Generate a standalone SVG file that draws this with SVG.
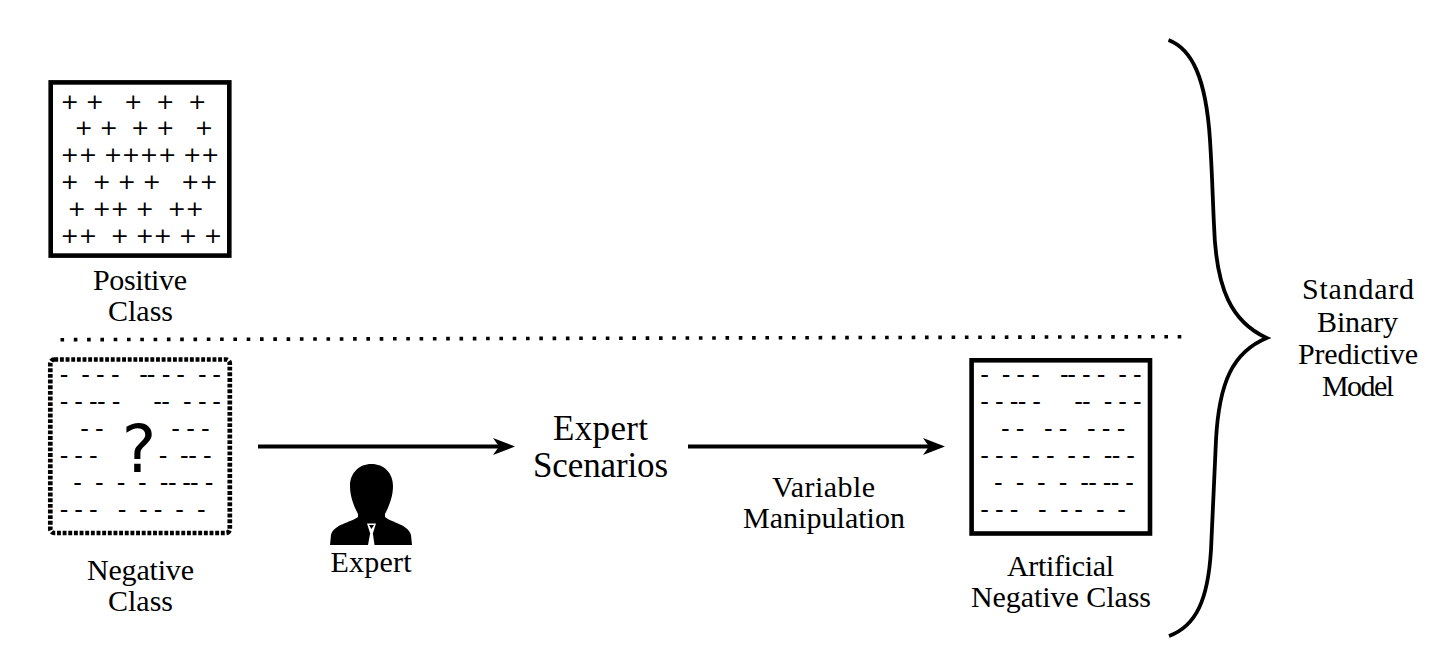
<svg xmlns="http://www.w3.org/2000/svg" width="1448" height="670" viewBox="0 0 1448 670">
<style>
text{fill:#000}
.l{font-family:"Liberation Serif","DejaVu Serif",serif;font-size:30px;text-anchor:middle}
.b{font-size:35px}
.p{font-family:"DejaVu Sans",sans-serif;font-size:22px;text-anchor:middle}
.m{font-family:"DejaVu Sans",sans-serif;font-size:24px;text-anchor:middle}
.box{fill:none;stroke:#000;stroke-width:4.6px}
.c{fill:none;stroke:#000;stroke-width:3.8px}
</style>
<defs>
<marker id="ah" markerUnits="userSpaceOnUse" markerWidth="24" markerHeight="20" refX="12" refY="9" orient="auto">
<path d="M0 0.5 L22 9 L0 17.5 L6 9 Z" fill="#000"/>
</marker>
</defs>
<rect width="1448" height="670" fill="#fff"/>
<g id="connectors">
<line class="c" x1="258" y1="446.5" x2="505" y2="446.5" marker-end="url(#ah)"/>
<line class="c" x1="688" y1="446.5" x2="935" y2="446.5" marker-end="url(#ah)"/>
<line x1="60.5" y1="339.7" x2="1184" y2="336.7" stroke="#000" stroke-width="3.6" stroke-dasharray="3.6 9.7"/>
<path d="M1168.5 40 C1192 49 1206 78 1210 140 C1212.5 180 1212.5 195 1214 225 C1216 290 1232 322 1266.7 338 C1233 352 1219 382 1216 440 C1214 480 1213 510 1211 550 C1208 600 1196 626 1169 636" fill="none" stroke="#000" stroke-width="3.8"/>
</g>
<g id="positive-class">
<rect class="box" x="50.7" y="82.4" width="178.6" height="173.2"/>
<text class="p" y="108.6" x="69.7 94.7 133.3 165.3 197.3">+++++</text>
<text class="p" y="134.9" x="83.7 108.7 140.3 165.3 204">+++++</text>
<text class="p" y="161.9" x="69.7 88 113 131 149 167.3 192.3 210.3">++++++++</text>
<text class="p" y="188.9" x="69.7 101.7 126.7 151.7 190.3 208.7">++++++</text>
<text class="p" y="215.9" x="76.7 101.7 119.7 144.7 176.7 194.7">++++++</text>
<text class="p" y="242.9" x="69.7 88 119.7 144.7 162.7 188 213">+++++++</text>
<text class="l" x="140" y="290" textLength="94">Positive</text>
<text class="l" x="140.5" y="321" textLength="65">Class</text>
</g>
<g id="negative-class">
<rect x="50.3" y="359.5" width="179.5" height="173.5" rx="4" fill="none" stroke="#000" stroke-width="4.7" stroke-dasharray="3.9 1.75"/>
<text class="m" y="383.3" x="64 85.7 100.3 115.3 143.7 151 166 180.7 202.3 216.7">----------</text>
<text class="m" y="410.3" x="64 78.7 93.3 101.3 116 157.7 165.7 187.3 202.3 216.7">----------</text>
<text class="m" y="437.3" x="84.7 99.3">--</text>
<text class="m" y="437.3" x="175.7 190.7 205.3">---</text>
<text class="m" y="464.3" x="64 78.7 93.3">---</text>
<text class="m" y="464.3" x="163 184.3 192.7 207.3">----</text>
<text class="m" y="491.3" x="77.7 99.3 121 142.3 164 172.3 186.7 194.3 209">---------</text>
<text class="m" y="518.3" x="64 78.7 93.3 122 143.3 158 179.7 201.3">--------</text>
<text x="139" y="471.7" font-family="DejaVu Sans, sans-serif" font-size="65" text-anchor="middle">?</text>
<text class="l" x="140.5" y="579.5" textLength="107">Negative</text>
<text class="l" x="140.5" y="611" textLength="65">Class</text>
</g>
<g id="expert">
<path d="M371.5 464 C384 464 393 473 393 486 C393 498 388 508 385 514 L385 517 C392 523 408 524 411 535 L412 545 L374.5 545 L372.8 533 L370.2 533 L368 545 L330 545 L331 535 C334 524 350 523 358 517 L358 514 C355 508 350 498 350 486 C350 473 359 464 371.5 464 Z" fill="#000"/>
<path d="M367 523.5 L376 523.5 L373 533 L370 533 Z" fill="#fff"/>
<path d="M369 525 L374 525 L371.5 529 Z" fill="#000"/>
<text class="l" x="371" y="571.5" textLength="81">Expert</text>
</g>
<g id="expert-scenarios">
<text class="l b" x="600.5" y="440" textLength="95">Expert</text>
<text class="l b" x="600.5" y="477" textLength="135">Scenarios</text>
</g>
<g id="variable-manipulation">
<text class="l" x="823.5" y="497" textLength="103">Variable</text>
<text class="l" x="824" y="528" textLength="162">Manipulation</text>
</g>
<g id="artificial-negative-class">
<rect class="box" x="971.6" y="360.3" width="178.4" height="173.2"/>
<text class="m" y="383.3" x="984.7 1006 1020.7 1035.7 1064.3 1071.7 1086.3 1101 1122.7 1137.3">----------</text>
<text class="m" y="410.3" x="984.7 999.3 1014 1022 1036.7 1078.7 1086.3 1108 1122.7 1137.3">----------</text>
<text class="m" y="437.3" x="1005.3 1020 1048.3 1063 1091.3 1106 1121">-------</text>
<text class="m" y="464.3" x="984.7 999.3 1014 1035.7 1050.3 1071.7 1086.3 1108 1116 1130.7">----------</text>
<text class="m" y="491.3" x="998.3 1020 1041.3 1063 1084.7 1092.7 1107 1115 1129.7">---------</text>
<text class="m" y="518.3" x="984.7 999.3 1014 1042.3 1064.3 1078.7 1100.3 1121.7">--------</text>
<text class="l" x="1060.5" y="576" textLength="107">Artificial</text>
<text class="l" x="1061" y="607" textLength="180">Negative Class</text>
</g>
<g id="standard-binary-predictive-model">
<text class="l" x="1358" y="299" textLength="112">Standard</text>
<text class="l" x="1357.5" y="332" textLength="81">Binary</text>
<text class="l" x="1358" y="364" textLength="120">Predictive</text>
<text class="l" x="1358" y="396" textLength="72">Model</text>
</g>
</svg>
